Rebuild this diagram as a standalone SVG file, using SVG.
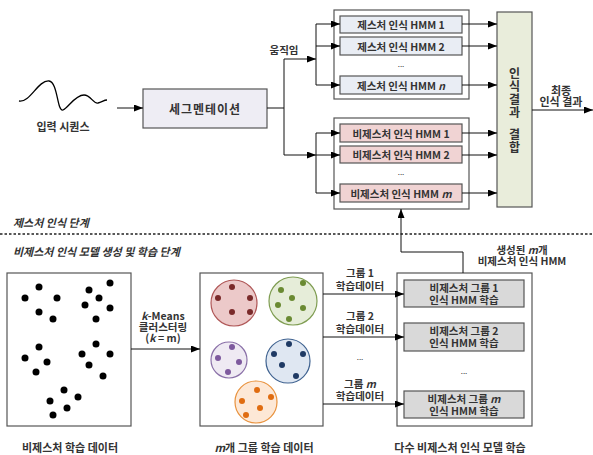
<svg xmlns="http://www.w3.org/2000/svg" width="593" height="455" viewBox="0 0 593 455">
<defs>
<marker id="ah" markerWidth="9" markerHeight="7" refX="9" refY="3.5" orient="auto" markerUnits="userSpaceOnUse">
<path d="M0,0 L9,3.5 L0,7 Z" fill="#000"/>
</marker>
<style>
text{font-family:"Noto Sans CJK KR","Noto Sans",sans-serif;font-size:10.5px;font-weight:bold;fill:#333;dominant-baseline:central;text-anchor:middle}
.it{font-style:italic}
.lg{font-size:11px}
.vt{font-size:12px}
.dt{font-size:8px;font-weight:normal}
.box{stroke:#555;stroke-width:1.2}
.frame{fill:#fff;stroke:#555;stroke-width:1.2}
.hmm{fill:#e9edf4}
.nhmm{fill:#f0d3d3}
.train{fill:#d9d9d9}
.ln{fill:none;stroke:#111;stroke-width:1}
.arr{fill:none;stroke:#111;stroke-width:1;marker-end:url(#ah)}
.dot{fill:#000}
</style>
</defs>

<g id="input-sequence">
<path d="M19,101 C30,103 38,80 49,81 C58,82 57,112 63,110 C68,108 75,95 84,95 C91,95 93,104 98,103 C102,102 104,100 107,100" fill="none" stroke="#000" stroke-width="1.3"/>
<text class="lg" x="63" y="126">입력 시퀀스</text>
</g>

<g id="segmentation">
<rect class="box" x="143" y="89" width="124" height="39" fill="#eeedf4"/>
<text x="205" y="108" style="font-size:12px;letter-spacing:1px">세그멘테이션</text>
</g>

<g id="gesture-hmm-group">
<rect class="frame" x="334" y="10" width="135" height="89"/>
<rect class="box hmm" x="340" y="16" width="122" height="17"/>
<text x="401" y="24.5">제스처 인식 HMM 1</text>
<rect class="box hmm" x="340" y="37" width="122" height="18"/>
<text x="401" y="46">제스처 인식 HMM 2</text>
<text class="dt" x="401" y="63">...</text>
<rect class="box hmm" x="340" y="76" width="122" height="18"/>
<text x="401" y="85">제스처 인식 HMM <tspan class="it">n</tspan></text>
</g>

<g id="nongesture-hmm-group">
<rect class="frame" x="334" y="118" width="135" height="91"/>
<rect class="box nhmm" x="340" y="124" width="122" height="18"/>
<text x="401" y="133">비제스처 인식 HMM 1</text>
<rect class="box nhmm" x="340" y="146" width="122" height="17"/>
<text x="401" y="154.5">비제스처 인식 HMM 2</text>
<text class="dt" x="401" y="171">...</text>
<rect class="box nhmm" x="340" y="184" width="122" height="18"/>
<text x="401" y="193">비제스처 인식 HMM <tspan class="it">m</tspan></text>
</g>

<g id="result-combination">
<rect class="box" x="497" y="12" width="35" height="195" fill="#e9eddb"/>
<text class="vt" x="514.5" y="72">인</text>
<text class="vt" x="514.5" y="85">식</text>
<text class="vt" x="514.5" y="98">결</text>
<text class="vt" x="514.5" y="111">과</text>
<text class="vt" x="514.5" y="133">결</text>
<text class="vt" x="514.5" y="146">합</text>
</g>

<g id="final-result">
<text class="lg" x="561" y="90">최종</text>
<text class="lg" x="561" y="101">인식 결과</text>
</g>

<g id="stage-labels">
<text class="it lg" x="13" y="222" style="text-anchor:start">제스처 인식 단계</text>
<line x1="0" y1="234" x2="593" y2="234" stroke="#222" stroke-width="1.5" stroke-dasharray="2.5,2"/>
<text class="it lg" x="13" y="251" style="text-anchor:start">비제스처 인식 모델 생성 및 학습 단계</text>
</g>

<g id="training-data">
<rect class="frame" x="7" y="273" width="124" height="153"/>
<g class="dot">
<circle cx="39" cy="287" r="3.5"/><circle cx="25" cy="298" r="3.5"/><circle cx="57" cy="298" r="3.5"/><circle cx="39" cy="312" r="3.5"/><circle cx="53" cy="319" r="3.5"/>
<circle cx="110" cy="283" r="3.5"/><circle cx="89" cy="290" r="3.5"/><circle cx="99" cy="298" r="3.5"/><circle cx="85" cy="305" r="3.5"/><circle cx="110" cy="308" r="3.5"/><circle cx="96" cy="319" r="3.5"/>
<circle cx="39" cy="347" r="3.5"/><circle cx="25" cy="358" r="3.5"/><circle cx="47" cy="362" r="3.5"/><circle cx="36" cy="372" r="3.5"/>
<circle cx="96" cy="344" r="3.5"/><circle cx="82" cy="354" r="3.5"/><circle cx="110" cy="354" r="3.5"/><circle cx="89" cy="365" r="3.5"/><circle cx="103" cy="376" r="3.5"/>
<circle cx="64" cy="390" r="3.5"/><circle cx="78" cy="397" r="3.5"/><circle cx="50" cy="401" r="3.5"/><circle cx="67" cy="408" r="3.5"/><circle cx="53" cy="415" r="3.5"/>
</g>
<text class="lg" x="70" y="447">비제스처 학습 데이터</text>
</g>

<g id="group-data">
<rect class="frame" x="200" y="273" width="123" height="153"/>
<circle cx="234" cy="303" r="23" fill="#ecc9c9" stroke="#b05858" stroke-width="1.2"/>
<g fill="#7a2a2a"><circle cx="232" cy="287" r="3"/><circle cx="218" cy="298" r="3"/><circle cx="250" cy="298" r="3"/><circle cx="232" cy="312" r="3"/><circle cx="250" cy="312" r="3"/></g>
<circle cx="293" cy="301" r="24" fill="#e6edd9" stroke="#7f9d52" stroke-width="1.2"/>
<g fill="#6a8a32"><circle cx="303" cy="283" r="3"/><circle cx="281" cy="290" r="3"/><circle cx="292" cy="298" r="3"/><circle cx="278" cy="305" r="3"/><circle cx="303" cy="308" r="3"/><circle cx="289" cy="319" r="3"/></g>
<circle cx="229" cy="360" r="18" fill="#efeaf3" stroke="#8a70a8" stroke-width="1.2"/>
<g fill="#7e5a9e"><circle cx="232" cy="347" r="3"/><circle cx="218" cy="358" r="3"/><circle cx="239" cy="362" r="3"/><circle cx="228" cy="372" r="3"/></g>
<circle cx="288" cy="361" r="22" fill="#dfe7f2" stroke="#3f6290" stroke-width="1.2"/>
<g fill="#1f3a64"><circle cx="289" cy="344" r="3"/><circle cx="274" cy="354" r="3"/><circle cx="303" cy="354" r="3"/><circle cx="282" cy="365" r="3"/><circle cx="296" cy="376" r="3"/></g>
<circle cx="256" cy="402" r="21" fill="#fde8d6" stroke="#e8913c" stroke-width="1.2"/>
<g fill="#e06c10"><circle cx="257" cy="390" r="3"/><circle cx="271" cy="397" r="3"/><circle cx="242" cy="401" r="3"/><circle cx="260" cy="408" r="3"/><circle cx="246" cy="415" r="3"/></g>
<text class="lg" x="264" y="447"><tspan class="it">m</tspan>개 그룹 학습 데이터</text>
</g>

<g id="multi-training">
<rect class="frame" x="397" y="273" width="135" height="153"/>
<rect class="box train" x="404" y="280" width="120" height="27"/>
<text x="464" y="287">비제스처 그룹 1</text>
<text x="464" y="299">인식 HMM 학습</text>
<rect class="box train" x="404" y="323" width="120" height="28"/>
<text x="464" y="330">비제스처 그룹 2</text>
<text x="464" y="342">인식 HMM 학습</text>
<text class="dt" x="464" y="370">...</text>
<rect class="box train" x="404" y="391" width="120" height="27"/>
<text x="464" y="398">비제스처 그룹 <tspan class="it">m</tspan></text>
<text x="464" y="410">인식 HMM 학습</text>
<text class="lg" x="460" y="447">다수 비제스처 인식 모델 학습</text>
</g>

<g id="connectors">
<line class="arr" x1="117" y1="108" x2="143" y2="108"/>
<path class="ln" d="M267,108 H284 M284,59 V155"/>
<text x="284" y="49">움직임</text>
<line class="arr" x1="284" y1="59" x2="316" y2="59"/>
<line class="arr" x1="284" y1="155" x2="316" y2="155"/>
<path class="ln" d="M316,24 V85 M316,133 V193"/>
<line class="arr" x1="316" y1="24" x2="340" y2="24"/>
<line class="arr" x1="316" y1="46" x2="340" y2="46"/>
<line class="arr" x1="316" y1="85" x2="340" y2="85"/>
<line class="arr" x1="316" y1="133" x2="340" y2="133"/>
<line class="arr" x1="316" y1="155" x2="340" y2="155"/>
<line class="arr" x1="316" y1="193" x2="340" y2="193"/>
<line class="arr" x1="462" y1="24" x2="497" y2="24"/>
<line class="arr" x1="462" y1="46" x2="497" y2="46"/>
<line class="arr" x1="462" y1="85" x2="497" y2="85"/>
<line class="arr" x1="462" y1="133" x2="497" y2="133"/>
<line class="arr" x1="462" y1="155" x2="497" y2="155"/>
<line class="arr" x1="462" y1="193" x2="497" y2="193"/>
<line class="arr" x1="532" y1="110" x2="593" y2="110"/>
<path class="arr" d="M463,273 V252 H401 V209"/>
<text x="522" y="249">생성된 <tspan class="it">m</tspan>개</text>
<text x="522" y="260">비제스처 인식 HMM</text>
<line class="arr" x1="131" y1="349" x2="200" y2="349"/>
<text x="163" y="315"><tspan class="it">k</tspan>-Means</text>
<text x="163" y="326">클러스터링</text>
<text x="163" y="337">(<tspan class="it">k</tspan> = m)</text>
<line class="arr" x1="323" y1="294" x2="404" y2="294"/>
<line class="arr" x1="323" y1="337" x2="404" y2="337"/>
<line class="arr" x1="323" y1="404" x2="404" y2="404"/>
<text x="360" y="272">그룹 1</text>
<text x="360" y="285">학습데이터</text>
<text x="360" y="315">그룹 2</text>
<text x="360" y="328">학습데이터</text>
<text class="dt" x="360" y="356">...</text>
<text x="360" y="383">그룹 <tspan class="it">m</tspan></text>
<text x="360" y="395">학습데이터</text>
</g>
</svg>
